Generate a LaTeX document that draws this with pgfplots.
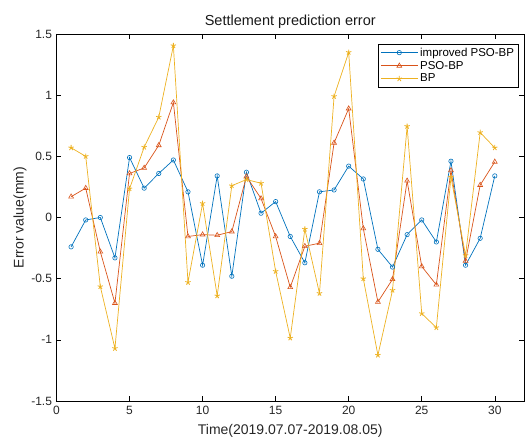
\documentclass[border=0pt]{standalone}
\usepackage{pgfplots}
\pgfplotsset{compat=1.18}
\usepackage{fontspec}
\setmainfont{Liberation Sans}
\definecolor{mblue}{rgb}{0,0.447,0.741}
\definecolor{mred}{rgb}{0.85,0.325,0.098}
\definecolor{myellow}{rgb}{0.929,0.694,0.125}
\begin{document}
\begin{tikzpicture}
\begin{axis}[
  name=ax, at={(0,0)}, anchor=south west,
  scale only axis, width=467.5pt, height=367pt,
  xmin=0, xmax=32, ymin=-1.5, ymax=1.5,
  xtick={0,5,...,30}, ytick={-1.5,-1,...,1.5},
  yticklabels={-1.5,-1,-0.5,0,0.5,1,1.5},
  tick align=inside, tick pos=both,
  major tick length=5pt,
  tick style={black, line width=0.5pt},
  axis line style={black, line width=0.6pt},
  /pgf/number format/assume math mode=true,
  ticklabel style={font=\fontsize{12}{14}\selectfont, text=black!85},
  xticklabel style={yshift=-2pt},
  yticklabel style={xshift=-1pt},
  title={Settlement prediction error},
  title style={font=\fontsize{14.5}{16}\selectfont, yshift=-4pt, text=black!90},
  xlabel={Time(2019.07.07-2019.08.05)},
  ylabel={Error value(mm)},
  label style={font=\fontsize{14}{16}\selectfont, text=black!85},
  xlabel style={yshift=-2pt},
  ylabel style={yshift=-2pt},
  legend style={at={(0.988,0.973)}, anchor=north east, draw=black, line width=0.6pt,
    font=\fontsize{11.5}{13}\selectfont, inner xsep=2pt, inner ysep=1.5pt, row sep=-0.5pt,
    /tikz/every even column/.append style={column sep=2pt}},
  legend cell align=left,
  legend image code/.code={\draw[mark repeat=2,mark phase=2] plot coordinates {(0cm,0cm)(0.65cm,0cm)(1.3cm,0cm)};},
  every axis plot/.append style={line width=0.7pt},
]
\addplot[mblue, mark=o, mark size=2.2pt, mark options={line width=0.6pt}] coordinates {
(1,-0.24)(2,-0.02)(3,0.00)(4,-0.33)(5,0.49)(6,0.24)(7,0.36)(8,0.47)(9,0.21)(10,-0.39)
(11,0.34)(12,-0.48)(13,0.37)(14,0.035)(15,0.13)(16,-0.155)(17,-0.37)(18,0.21)(19,0.225)(20,0.42)
(21,0.315)(22,-0.26)(23,-0.405)(24,-0.14)(25,-0.02)(26,-0.2)(27,0.46)(28,-0.39)(29,-0.17)(30,0.34)};
\addlegendentry{improved PSO-BP}
\addplot[mred, mark=triangle, mark size=2.8pt, mark options={line width=0.6pt}] coordinates {
(1,0.17)(2,0.24)(3,-0.28)(4,-0.70)(5,0.36)(6,0.405)(7,0.59)(8,0.94)(9,-0.155)(10,-0.14)
(11,-0.145)(12,-0.115)(13,0.335)(14,0.155)(15,-0.155)(16,-0.57)(17,-0.235)(18,-0.21)(19,0.61)(20,0.89)
(21,-0.09)(22,-0.69)(23,-0.505)(24,0.30)(25,-0.40)(26,-0.55)(27,0.385)(28,-0.355)(29,0.265)(30,0.455)};
\addlegendentry{PSO-BP}
\addplot[myellow, mark=star, mark size=2.8pt, mark options={line width=0.8pt}] coordinates {
(1,0.57)(2,0.50)(3,-0.565)(4,-1.07)(5,0.235)(6,0.575)(7,0.82)(8,1.405)(9,-0.53)(10,0.115)
(11,-0.64)(12,0.26)(13,0.31)(14,0.28)(15,-0.44)(16,-0.985)(17,-0.095)(18,-0.62)(19,0.99)(20,1.35)
(21,-0.50)(22,-1.125)(23,-0.595)(24,0.745)(25,-0.785)(26,-0.90)(27,0.33)(28,-0.31)(29,0.695)(30,0.57)};
\addlegendentry{BP}
\end{axis}
\pgfresetboundingbox
\path[use as bounding box] (-56.5pt,-41pt) rectangle (468.5pt,401pt);
\end{tikzpicture}
\end{document}
